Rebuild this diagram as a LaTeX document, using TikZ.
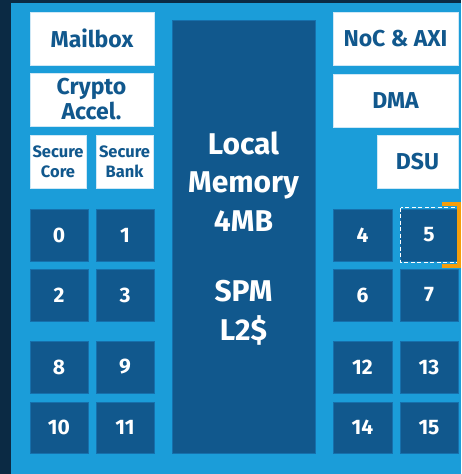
\documentclass[tikz,border=0pt]{standalone}
\usepackage{fontspec}
\setmainfont{Fira Sans}
\definecolor{navy}{HTML}{0B2A44}
\definecolor{chipblue}{HTML}{1B9DD9}
\definecolor{tileblue}{HTML}{11588D}
\definecolor{tileedge}{HTML}{1670AC}
\definecolor{boxedge}{HTML}{CFE8F6}
\definecolor{hilite}{HTML}{F59E0B}
\begin{document}
\begin{tikzpicture}[x=1pt,y=-1pt,
  whitebox/.style={draw=boxedge,line width=0.8pt,fill=white,text=tileblue,
    font=\bfseries\fontsize{23}{25}\selectfont,align=center,inner sep=0pt},
  smallbox/.style={whitebox,font=\bfseries\fontsize{16.5}{20}\selectfont},
  tile/.style={draw=tileedge,line width=0.8pt,fill=tileblue,text=white,
    font=\bfseries\fontsize{21}{22}\selectfont,inner sep=0pt},
  memtext/.style={text=white,font=\bfseries\fontsize{30}{38.5}\selectfont,
    align=center,inner sep=0pt}]
  % page margins and chip outline
  \useasboundingbox (0,0) rectangle (461,474);
  \fill[navy] (0,0) rectangle (461,474);
  \fill[chipblue] (11,3) rectangle (461,474);

  % left column of peripherals
  \node[whitebox,minimum width=124,minimum height=53] (mail) at (92,38.5) {Mailbox};
  \node[whitebox,minimum width=123,minimum height=53] (crypto) at (91.5,99.5) {Crypto\\Accel.};
  \node[smallbox,minimum width=56,minimum height=53] (score) at (58,161.5) {Secure\\Core};
  \node[smallbox,minimum width=57,minimum height=53] (sbank) at (124.5,161.5) {Secure\\Bank};

  % right column of peripherals
  \node[whitebox,minimum width=125,minimum height=53] (noc) at (395.5,38.5) {NoC \& AXI};
  \node[whitebox,minimum width=125,minimum height=53] (dma) at (395.5,100.5) {DMA};
  \node[whitebox,minimum width=81,minimum height=53] (dsu) at (417.5,161.5) {DSU};

  % shared local memory (multi-line nodes: base is the last line)
  \node[tile,minimum width=143,minimum height=433] (mem) at (243.5,236.5) {};
  \node[memtext,anchor=base] (memtop) at (243.5,231) {Local\\Memory\\4MB};
  \node[memtext,anchor=base] (membot) at (243.5,340) {SPM\\L2\$};

  % compute tiles, left cluster
  \node[tile,minimum width=58,minimum height=52] (t0) at (59,235) {0};
  \node[tile,minimum width=58,minimum height=52] (t1) at (125,235) {1};
  \node[tile,minimum width=58,minimum height=52] (t2) at (59,295) {2};
  \node[tile,minimum width=58,minimum height=52] (t3) at (125,295) {3};
  \node[tile,minimum width=58,minimum height=52] (t8) at (59,367) {8};
  \node[tile,minimum width=58,minimum height=52] (t9) at (125,367) {9};
  \node[tile,minimum width=58,minimum height=51] (t10) at (59,427.5) {10};
  \node[tile,minimum width=58,minimum height=51] (t11) at (125,427.5) {11};

  % compute tiles, right cluster
  \node[tile,minimum width=59,minimum height=52] (t4) at (362.5,235) {4};
  \node[tile,minimum width=58,minimum height=52] (t5) at (429,235) {5};
  \node[tile,minimum width=59,minimum height=52] (t6) at (362.5,295) {6};
  \node[tile,minimum width=58,minimum height=52] (t7) at (429,295) {7};
  \node[tile,minimum width=59,minimum height=52] (t12) at (362.5,367) {12};
  \node[tile,minimum width=58,minimum height=52] (t13) at (429,367) {13};
  \node[tile,minimum width=59,minimum height=51] (t14) at (362.5,427.5) {14};
  \node[tile,minimum width=58,minimum height=51] (t15) at (429,427.5) {15};

  % selected tile
  \draw[white,line width=1.2pt,dash pattern=on 4pt off 2.5pt]
    ([shift={(1,-1)}]t5.north west) rectangle ([shift={(-1,1)}]t5.south east);
  \draw[hilite,line width=4pt] (442,204) -- (459,204) -- (459,266) -- (442,266);
\end{tikzpicture}
\end{document}
